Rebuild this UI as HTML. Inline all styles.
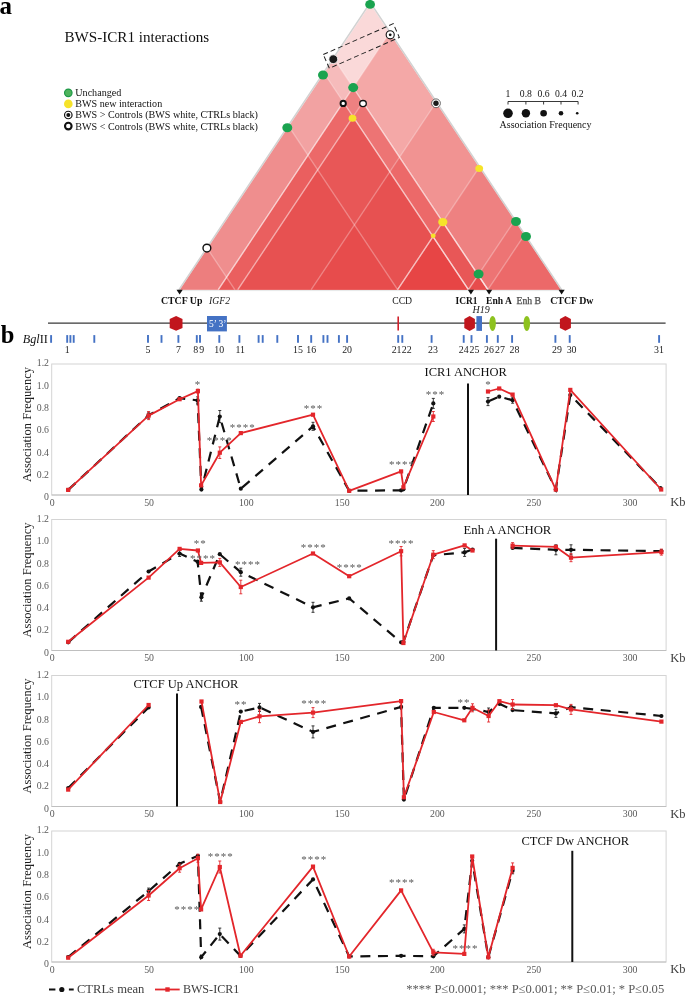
<!DOCTYPE html>
<html><head><meta charset="utf-8"><title>BWS-ICR1 interactions</title>
<style>
html,body{margin:0;padding:0;background:#fff;}
body{width:685px;height:996px;overflow:hidden;}
svg{display:block;will-change:transform;font-family:"Liberation Serif", serif;}
</style></head><body>
<svg width="685" height="996" viewBox="0 0 685 996">

<text x="-0.4" y="14.1" font-size="25" font-weight="bold" fill="#000">a</text>
<text x="64.5" y="41.7" font-size="15.1" fill="#111">BWS-ICR1 interactions</text>
<circle cx="68.3" cy="92.8" r="3.75" fill="#4fb35c" stroke="#1f9a48" stroke-width="1.2"/>
<text x="75.3" y="96.2" font-size="10.1" fill="#111">Unchanged</text>
<circle cx="68.3" cy="103.89999999999999" r="4.3" fill="#f6e32a"/>
<text x="75.3" y="107.3" font-size="10.1" fill="#111">BWS new interaction</text>
<circle cx="68.3" cy="115.0" r="3.75" fill="#fff" stroke="#111" stroke-width="1.2"/><circle cx="68.3" cy="115.0" r="2.0" fill="#111"/>
<text x="75.3" y="118.4" font-size="10.1" fill="#111">BWS &gt; Controls (BWS white, CTRLs black)</text>
<circle cx="68.3" cy="126.1" r="3.3" fill="#fff" stroke="#111" stroke-width="2.1"/>
<text x="75.3" y="129.5" font-size="10.1" fill="#111">BWS &lt; Controls (BWS white, CTRLs black)</text>
<g>
<path d="M179.80,289.7 L370.30,3.95 L560.80,289.7Z" fill="rgb(229,55,52)" fill-opacity="0.19"/>
<path d="M218.30,289.7 L389.55,32.83 L560.80,289.7Z" fill="rgb(229,55,52)" fill-opacity="0.3"/>
<path d="M179.80,289.7 L333.85,58.62 L487.90,289.7Z" fill="rgb(229,55,52)" fill-opacity="0.185"/>
<path d="M179.80,289.7 L324.10,73.25 L468.40,289.7Z" fill="rgb(229,55,52)" fill-opacity="0.185"/>
<path d="M218.30,289.7 L353.10,87.50 L487.90,289.7Z" fill="rgb(229,55,52)" fill-opacity="0.185"/>
<path d="M218.30,289.7 L343.35,102.12 L468.40,289.7Z" fill="rgb(229,55,52)" fill-opacity="0.185"/>
<path d="M237.80,289.7 L362.85,102.12 L487.90,289.7Z" fill="rgb(229,55,52)" fill-opacity="0.185"/>
<path d="M311.20,289.7 L436.00,102.50 L560.80,289.7Z" fill="rgb(229,55,52)" fill-opacity="0.185"/>
<path d="M237.80,289.7 L353.10,116.75 L468.40,289.7Z" fill="rgb(229,55,52)" fill-opacity="0.185"/>
<path d="M179.80,289.7 L288.70,126.35 L397.60,289.7Z" fill="rgb(229,55,52)" fill-opacity="0.185"/>
<path d="M397.60,289.7 L479.20,167.30 L560.80,289.7Z" fill="rgb(229,55,52)" fill-opacity="0.185"/>
<path d="M468.40,289.7 L514.60,220.40 L560.80,289.7Z" fill="rgb(229,55,52)" fill-opacity="0.185"/>
<path d="M397.60,289.7 L442.75,221.98 L487.90,289.7Z" fill="rgb(229,55,52)" fill-opacity="0.185"/>
<path d="M487.90,289.7 L524.35,235.03 L560.80,289.7Z" fill="rgb(229,55,52)" fill-opacity="0.185"/>
<path d="M397.60,289.7 L433.00,236.60 L468.40,289.7Z" fill="rgb(229,55,52)" fill-opacity="0.185"/>
<path d="M179.80,289.7 L207.30,248.45 L234.80,289.7Z" fill="rgb(229,55,52)" fill-opacity="0.185"/>
<path d="M468.40,289.7 L478.15,275.07 L487.90,289.7Z" fill="rgb(229,55,52)" fill-opacity="0.185"/>
<path d="M218.30,289.7 L389.55,32.83" fill="none" stroke="#fff" stroke-opacity="0.3" stroke-width="1.3"/>
<path d="M333.85,58.62 L487.90,289.7" fill="none" stroke="#fff" stroke-opacity="0.3" stroke-width="1.3"/>
<path d="M324.10,73.25 L468.40,289.7" fill="none" stroke="#fff" stroke-opacity="0.3" stroke-width="1.3"/>
<path d="M218.30,289.7 L353.10,87.50" fill="none" stroke="#fff" stroke-opacity="0.3" stroke-width="1.3"/>
<path d="M353.10,87.50 L487.90,289.7" fill="none" stroke="#fff" stroke-opacity="0.3" stroke-width="1.3"/>
<path d="M218.30,289.7 L343.35,102.12" fill="none" stroke="#fff" stroke-opacity="0.3" stroke-width="1.3"/>
<path d="M343.35,102.12 L468.40,289.7" fill="none" stroke="#fff" stroke-opacity="0.3" stroke-width="1.3"/>
<path d="M237.80,289.7 L362.85,102.12" fill="none" stroke="#fff" stroke-opacity="0.3" stroke-width="1.3"/>
<path d="M362.85,102.12 L487.90,289.7" fill="none" stroke="#fff" stroke-opacity="0.3" stroke-width="1.3"/>
<path d="M311.20,289.7 L436.00,102.50" fill="none" stroke="#fff" stroke-opacity="0.3" stroke-width="1.3"/>
<path d="M237.80,289.7 L353.10,116.75" fill="none" stroke="#fff" stroke-opacity="0.3" stroke-width="1.3"/>
<path d="M353.10,116.75 L468.40,289.7" fill="none" stroke="#fff" stroke-opacity="0.3" stroke-width="1.3"/>
<path d="M288.70,126.35 L397.60,289.7" fill="none" stroke="#fff" stroke-opacity="0.3" stroke-width="1.3"/>
<path d="M397.60,289.7 L479.20,167.30" fill="none" stroke="#fff" stroke-opacity="0.3" stroke-width="1.3"/>
<path d="M468.40,289.7 L514.60,220.40" fill="none" stroke="#fff" stroke-opacity="0.3" stroke-width="1.3"/>
<path d="M397.60,289.7 L442.75,221.98" fill="none" stroke="#fff" stroke-opacity="0.3" stroke-width="1.3"/>
<path d="M442.75,221.98 L487.90,289.7" fill="none" stroke="#fff" stroke-opacity="0.3" stroke-width="1.3"/>
<path d="M487.90,289.7 L524.35,235.03" fill="none" stroke="#fff" stroke-opacity="0.3" stroke-width="1.3"/>
<path d="M397.60,289.7 L433.00,236.60" fill="none" stroke="#fff" stroke-opacity="0.3" stroke-width="1.3"/>
<path d="M433.00,236.60 L468.40,289.7" fill="none" stroke="#fff" stroke-opacity="0.3" stroke-width="1.3"/>
<path d="M207.30,248.45 L234.80,289.7" fill="none" stroke="#fff" stroke-opacity="0.3" stroke-width="1.3"/>
<path d="M468.40,289.7 L478.15,275.07" fill="none" stroke="#fff" stroke-opacity="0.3" stroke-width="1.3"/>
<path d="M478.15,275.07 L487.90,289.7" fill="none" stroke="#fff" stroke-opacity="0.3" stroke-width="1.3"/>
</g>
<path d="M178.85,290.0 L370.30,2.55 L561.75,290.0" fill="none" stroke="#d2d2d2" stroke-width="1.5"/>
<line x1="179.8" y1="290.59999999999997" x2="560.8" y2="290.59999999999997" stroke="#e6e8e8" stroke-width="1"/>
<ellipse cx="370.10" cy="4.40" rx="4.89" ry="4.46" fill="#1aa34f"/>
<ellipse cx="323.00" cy="75.00" rx="4.99" ry="4.56" fill="#1aa34f"/>
<ellipse cx="353.20" cy="87.60" rx="4.99" ry="4.56" fill="#1aa34f"/>
<ellipse cx="287.30" cy="127.80" rx="4.99" ry="4.56" fill="#1aa34f"/>
<ellipse cx="516.00" cy="221.50" rx="4.99" ry="4.56" fill="#1aa34f"/>
<ellipse cx="526.00" cy="236.50" rx="4.99" ry="4.56" fill="#1aa34f"/>
<ellipse cx="478.60" cy="274.00" rx="4.99" ry="4.56" fill="#1aa34f"/>
<ellipse cx="352.50" cy="118.30" rx="3.89" ry="3.52" fill="#f6e32a"/>
<ellipse cx="479.20" cy="168.40" rx="3.89" ry="3.52" fill="#f6e32a"/>
<ellipse cx="442.80" cy="222.10" rx="4.62" ry="4.18" fill="#f6e32a"/>
<ellipse cx="433.20" cy="235.80" rx="2.42" ry="2.18" fill="#f6e32a"/>
<circle cx="333.3" cy="59.2" r="4.4" fill="#1a1a1a" stroke="#fff" stroke-width="0.8"/>
<circle cx="390.2" cy="34.8" r="4.05" fill="#fff" stroke="#111" stroke-width="1.1"/><circle cx="390.2" cy="34.8" r="1.4" fill="#111"/>
<circle cx="343.2" cy="103.4" r="2.65" fill="#fff" stroke="#111" stroke-width="1.9"/>
<ellipse cx="363.0" cy="103.6" rx="3.3" ry="3.1" fill="#fff" stroke="#111" stroke-width="1.3"/>
<circle cx="436" cy="103.3" r="4.4" fill="#fff" stroke="#444" stroke-width="0.8"/><circle cx="436" cy="103.3" r="2.7" fill="#1a1a1a"/>
<circle cx="206.9" cy="248.1" r="3.9" fill="#fff" stroke="#111" stroke-width="1.4"/>
<rect x="-38.20" y="-8.7" width="76.5" height="15" fill="none" stroke="#222" stroke-width="1" stroke-dasharray="5,3" transform="translate(361.75,47.10) rotate(-23.84)"/>
<path d="M176.5,289.7 L182.7,289.7 L179.6,294.5" fill="#111"/>
<path d="M467.8,289.7 L474.0,289.7 L470.9,294.5" fill="#111"/>
<path d="M486.0,289.7 L492.2,289.7 L489.1,294.5" fill="#111"/>
<path d="M558.5,289.7 L564.7,289.7 L561.6,294.5" fill="#111"/>
<text x="160.9" y="304.4" font-size="9.9" font-weight="bold" fill="#111">CTCF Up</text>
<text x="209" y="304.4" font-size="9.7" font-style="italic" fill="#222">IGF2</text>
<text x="392.2" y="304.4" font-size="9.7" fill="#222">CCD</text>
<text x="455.5" y="304.4" font-size="9.4" font-weight="bold" fill="#111">ICR1</text>
<text x="486" y="304.4" font-size="9.6" font-weight="bold" fill="#111">Enh A</text>
<text x="516.6" y="304.4" font-size="9.7" fill="#4a4a4a" stroke="#4a4a4a" stroke-width="0.25">Enh B</text>
<text x="550.2" y="304.4" font-size="9.9" font-weight="bold" fill="#111">CTCF Dw</text>
<text x="472.5" y="312.7" font-size="10" font-style="italic" fill="#222">H19</text>
<g fill="#111">
<text x="508" y="96.6" font-size="9.7" text-anchor="middle">1</text>
<text x="525.9" y="96.6" font-size="9.7" text-anchor="middle">0.8</text>
<text x="543.6" y="96.6" font-size="9.7" text-anchor="middle">0.6</text>
<text x="561" y="96.6" font-size="9.7" text-anchor="middle">0.4</text>
<text x="577.6" y="96.6" font-size="9.7" text-anchor="middle">0.2</text>
</g>
<path d="M508,104.5 V101.5 H578.1 V104.5 M525.9,101.5 V104.5 M543.6,101.5 V104.5 M561,101.5 V104.5" fill="none" stroke="#222" stroke-width="0.9"/>
<circle cx="508" cy="113.3" r="4.8" fill="#111"/>
<circle cx="525.9" cy="113.3" r="4.2" fill="#111"/>
<circle cx="543.6" cy="113.3" r="3.3" fill="#111"/>
<circle cx="561" cy="113.3" r="2.3" fill="#111"/>
<circle cx="577.2" cy="113.3" r="1.3" fill="#111"/>
<text x="499.6" y="127.7" font-size="10" fill="#111">Association Frequency</text>
<text x="0.8" y="343" font-size="24.5" font-weight="bold" fill="#000">b</text>
<line x1="48" y1="323.2" x2="665.6" y2="323.2" stroke="#383838" stroke-width="1.3"/>
<path d="M176.1,316.0 L182.5,319.0 L182.5,328.0 L176.1,330.79999999999995 L169.7,328.0 L169.7,319.0 Z" fill="#c1161d"/>
<path d="M469.6,316.1 L474.90000000000003,319.1 L474.90000000000003,328.1 L469.6,330.9 L464.3,328.1 L464.3,319.1 Z" fill="#c1161d"/>
<path d="M565.4,316.0 L570.9,319.0 L570.9,328.0 L565.4,330.79999999999995 L559.9,328.0 L559.9,319.0 Z" fill="#c1161d"/>
<rect x="207" y="316" width="19.9" height="15.4" fill="#4472c4"/>
<text x="209" y="327.3" font-size="10.5" fill="#fff" textLength="17.5" lengthAdjust="spacingAndGlyphs">5&#8217; 3&#8217;</text>
<rect x="476.4" y="316.1" width="5.6" height="14.8" fill="#4472c4"/>
<line x1="398.2" y1="316.4" x2="398.2" y2="330.4" stroke="#d0202a" stroke-width="1.6"/>
<ellipse cx="492.6" cy="323.4" rx="3.3" ry="7.5" fill="#8dc21f"/>
<ellipse cx="526.8" cy="323.4" rx="3.3" ry="7.5" fill="#8dc21f"/>
<text x="22.8" y="342.7" font-size="12.2" fill="#111"><tspan font-style="italic">Bgl</tspan>II</text>
<line x1="51.1" y1="335.1" x2="51.1" y2="342.8" stroke="#4472c4" stroke-width="1.9"/>
<line x1="67.2" y1="335.1" x2="67.2" y2="342.8" stroke="#4472c4" stroke-width="1.9"/>
<line x1="70.4" y1="335.1" x2="70.4" y2="342.8" stroke="#4472c4" stroke-width="1.9"/>
<line x1="73.7" y1="335.1" x2="73.7" y2="342.8" stroke="#4472c4" stroke-width="1.9"/>
<line x1="94.3" y1="335.1" x2="94.3" y2="342.8" stroke="#4472c4" stroke-width="1.9"/>
<line x1="148.0" y1="335.1" x2="148.0" y2="342.8" stroke="#4472c4" stroke-width="1.9"/>
<line x1="161.5" y1="335.1" x2="161.5" y2="342.8" stroke="#4472c4" stroke-width="1.9"/>
<line x1="178.4" y1="335.1" x2="178.4" y2="342.8" stroke="#4472c4" stroke-width="1.9"/>
<line x1="196.8" y1="335.1" x2="196.8" y2="342.8" stroke="#4472c4" stroke-width="1.9"/>
<line x1="200.0" y1="335.1" x2="200.0" y2="342.8" stroke="#4472c4" stroke-width="1.9"/>
<line x1="219.3" y1="335.1" x2="219.3" y2="342.8" stroke="#4472c4" stroke-width="1.9"/>
<line x1="239.4" y1="335.1" x2="239.4" y2="342.8" stroke="#4472c4" stroke-width="1.9"/>
<line x1="258.6" y1="335.1" x2="258.6" y2="342.8" stroke="#4472c4" stroke-width="1.9"/>
<line x1="262.7" y1="335.1" x2="262.7" y2="342.8" stroke="#4472c4" stroke-width="1.9"/>
<line x1="277.3" y1="335.1" x2="277.3" y2="342.8" stroke="#4472c4" stroke-width="1.9"/>
<line x1="298.0" y1="335.1" x2="298.0" y2="342.8" stroke="#4472c4" stroke-width="1.9"/>
<line x1="311.2" y1="335.1" x2="311.2" y2="342.8" stroke="#4472c4" stroke-width="1.9"/>
<line x1="323.4" y1="335.1" x2="323.4" y2="342.8" stroke="#4472c4" stroke-width="1.9"/>
<line x1="327.5" y1="335.1" x2="327.5" y2="342.8" stroke="#4472c4" stroke-width="1.9"/>
<line x1="338.9" y1="335.1" x2="338.9" y2="342.8" stroke="#4472c4" stroke-width="1.9"/>
<line x1="347.1" y1="335.1" x2="347.1" y2="342.8" stroke="#4472c4" stroke-width="1.9"/>
<line x1="398.2" y1="335.1" x2="398.2" y2="342.8" stroke="#4472c4" stroke-width="1.9"/>
<line x1="402.3" y1="335.1" x2="402.3" y2="342.8" stroke="#4472c4" stroke-width="1.9"/>
<line x1="431.6" y1="335.1" x2="431.6" y2="342.8" stroke="#4472c4" stroke-width="1.9"/>
<line x1="463.7" y1="335.1" x2="463.7" y2="342.8" stroke="#4472c4" stroke-width="1.9"/>
<line x1="471.5" y1="335.1" x2="471.5" y2="342.8" stroke="#4472c4" stroke-width="1.9"/>
<line x1="486.9" y1="335.1" x2="486.9" y2="342.8" stroke="#4472c4" stroke-width="1.9"/>
<line x1="497.8" y1="335.1" x2="497.8" y2="342.8" stroke="#4472c4" stroke-width="1.9"/>
<line x1="512.1" y1="335.1" x2="512.1" y2="342.8" stroke="#4472c4" stroke-width="1.9"/>
<line x1="555.4" y1="335.1" x2="555.4" y2="342.8" stroke="#4472c4" stroke-width="1.9"/>
<line x1="569.7" y1="335.1" x2="569.7" y2="342.8" stroke="#4472c4" stroke-width="1.9"/>
<line x1="659.1" y1="335.1" x2="659.1" y2="342.8" stroke="#4472c4" stroke-width="1.9"/>
<g font-size="9.9" fill="#222" text-anchor="middle">
<text x="67.2" y="353.1">1</text>
<text x="148" y="353.1">5</text>
<text x="178.4" y="353.1">7</text>
<text x="195.8" y="353.1">8</text>
<text x="201.7" y="353.1">9</text>
<text x="219.3" y="353.1">10</text>
<text x="240.2" y="353.1">11</text>
<text x="298" y="353.1">15</text>
<text x="311.2" y="353.1">16</text>
<text x="347.1" y="353.1">20</text>
<text x="396.6" y="353.1">21</text>
<text x="406.8" y="353.1">22</text>
<text x="433.0" y="353.1">23</text>
<text x="463.7" y="353.1">24</text>
<text x="474.5" y="353.1">25</text>
<text x="488.9" y="353.1">26</text>
<text x="500" y="353.1">27</text>
<text x="514.4" y="353.1">28</text>
<text x="557" y="353.1">29</text>
<text x="571.6" y="353.1">30</text>
<text x="659" y="353.1">31</text>
</g>
<rect x="51.7" y="364.0" width="614.4" height="131.0" fill="none" stroke="#d4d4d4" stroke-width="1"/>
<line x1="51.7" y1="495.0" x2="666.1" y2="495.0" stroke="#bfbfbf" stroke-width="1"/>
<g font-size="9.8" fill="#595959" text-anchor="end">
<text x="49" y="500.1">0</text>
<text x="49" y="477.8">0.2</text>
<text x="49" y="455.5">0.4</text>
<text x="49" y="433.3">0.6</text>
<text x="49" y="411.0">0.8</text>
<text x="49" y="388.7">1.0</text>
<text x="49" y="366.4">1.2</text>
</g>
<g font-size="9.8" fill="#595959" text-anchor="middle">
<text x="52.1" y="505.6">0</text>
<text x="149.1" y="505.6">50</text>
<text x="246.3" y="505.6">100</text>
<text x="342.2" y="505.6">150</text>
<text x="437.4" y="505.6">200</text>
<text x="533.9" y="505.6">250</text>
<text x="630.1" y="505.6">300</text>
</g>
<text x="670.3" y="506.0" font-size="12.5" fill="#404040">Kb</text>
<text transform="translate(30.8,424.5) rotate(-90)" font-size="12.5" fill="#1a1a1a" text-anchor="middle">Association Frequency</text>
<line x1="468.0" y1="383.4" x2="468.0" y2="495.0" stroke="#111" stroke-width="2"/>
<text x="424.5" y="376.1" font-size="12.5" fill="#111">ICR1 ANCHOR</text>
<path d="M148.6,412.2 V418.2 M147.1,412.2 H150.1 M147.1,418.2 H150.1" stroke="#222" stroke-width="0.9" fill="none"/>
<path d="M197.6,396.9 V403.9 M196.1,396.9 H199.1 M196.1,403.9 H199.1" stroke="#222" stroke-width="0.9" fill="none"/>
<path d="M219.8,410.5 V422.5 M218.3,410.5 H221.3 M218.3,422.5 H221.3" stroke="#222" stroke-width="0.9" fill="none"/>
<path d="M313,422.3 V430.3 M311.5,422.3 H314.5 M311.5,430.3 H314.5" stroke="#222" stroke-width="0.9" fill="none"/>
<path d="M433.3,398.4 V408.4 M431.8,398.4 H434.8 M431.8,408.4 H434.8" stroke="#222" stroke-width="0.9" fill="none"/>
<path d="M488,397.6 V405.6 M486.5,397.6 H489.5 M486.5,405.6 H489.5" stroke="#222" stroke-width="0.9" fill="none"/>
<path d="M512.6,397.2 V403.2 M511.1,397.2 H514.1 M511.1,403.2 H514.1" stroke="#222" stroke-width="0.9" fill="none"/>
<path d="M68.2,489.9 L148.6,415.2 L179.6,398.1 L197.6,400.4 L201.4,489.6 L219.8,416.5 L240.8,488.7 L313,426.3 L349.2,490.8 L401.1,490.3 L403.4,489.3 L433.3,403.4" fill="none" stroke="#111" stroke-width="2.2" stroke-dasharray="10,7.6"/>
<circle cx="68.2" cy="489.9" r="2.1" fill="#111"/>
<circle cx="148.6" cy="415.2" r="2.1" fill="#111"/>
<circle cx="179.6" cy="398.1" r="2.1" fill="#111"/>
<circle cx="197.6" cy="400.4" r="2.1" fill="#111"/>
<circle cx="201.4" cy="489.6" r="2.1" fill="#111"/>
<circle cx="219.8" cy="416.5" r="2.1" fill="#111"/>
<circle cx="240.8" cy="488.7" r="2.1" fill="#111"/>
<circle cx="313" cy="426.3" r="2.1" fill="#111"/>
<circle cx="349.2" cy="490.8" r="2.1" fill="#111"/>
<circle cx="401.1" cy="490.3" r="2.1" fill="#111"/>
<circle cx="403.4" cy="489.3" r="2.1" fill="#111"/>
<circle cx="433.3" cy="403.4" r="2.1" fill="#111"/>
<path d="M488,401.6 L499.2,396.7 L512.6,400.2 L555.8,489.6 L570.3,395 L660.5,488" fill="none" stroke="#111" stroke-width="2.2" stroke-dasharray="10,7.6"/>
<circle cx="488" cy="401.6" r="2.1" fill="#111"/>
<circle cx="499.2" cy="396.7" r="2.1" fill="#111"/>
<circle cx="512.6" cy="400.2" r="2.1" fill="#111"/>
<circle cx="555.8" cy="489.6" r="2.1" fill="#111"/>
<circle cx="570.3" cy="395" r="2.1" fill="#111"/>
<circle cx="660.5" cy="488" r="2.1" fill="#111"/>
<path d="M148.6,411.6 V419.6 M147.1,411.6 H150.1 M147.1,419.6 H150.1" stroke="#e3262b" stroke-width="0.9" fill="none"/>
<path d="M197.9,389.1 V393.1 M196.4,389.1 H199.4 M196.4,393.1 H199.4" stroke="#e3262b" stroke-width="0.9" fill="none"/>
<path d="M219.8,446.9 V458.5 M218.3,446.9 H221.3 M218.3,458.5 H221.3" stroke="#e3262b" stroke-width="0.9" fill="none"/>
<path d="M433.3,411.5 V421.5 M431.8,411.5 H434.8 M431.8,421.5 H434.8" stroke="#e3262b" stroke-width="0.9" fill="none"/>
<path d="M68.2,489.9 L148.6,415.6 L179.6,399.2 L197.9,391.1 L201.1,485.4 L219.8,452.7 L240.8,433.1 L313,414.7 L349.2,490.8 L401.1,471.4 L403.4,487.3 L433.3,416.5" fill="none" stroke="#e3262b" stroke-width="1.8" stroke-linejoin="round"/>
<rect x="66.1" y="487.8" width="4.2" height="4.2" fill="#e3262b"/>
<rect x="146.5" y="413.5" width="4.2" height="4.2" fill="#e3262b"/>
<rect x="177.5" y="397.1" width="4.2" height="4.2" fill="#e3262b"/>
<rect x="195.8" y="389.0" width="4.2" height="4.2" fill="#e3262b"/>
<rect x="199.0" y="483.3" width="4.2" height="4.2" fill="#e3262b"/>
<rect x="217.7" y="450.6" width="4.2" height="4.2" fill="#e3262b"/>
<rect x="238.7" y="431.0" width="4.2" height="4.2" fill="#e3262b"/>
<rect x="310.9" y="412.6" width="4.2" height="4.2" fill="#e3262b"/>
<rect x="347.1" y="488.7" width="4.2" height="4.2" fill="#e3262b"/>
<rect x="399.0" y="469.3" width="4.2" height="4.2" fill="#e3262b"/>
<rect x="401.3" y="485.2" width="4.2" height="4.2" fill="#e3262b"/>
<rect x="431.2" y="414.4" width="4.2" height="4.2" fill="#e3262b"/>
<path d="M488,391.5 L499.2,388.5 L512.6,394.6 L555.8,489.6 L570.3,389.9 L661.2,489.5" fill="none" stroke="#e3262b" stroke-width="1.8" stroke-linejoin="round"/>
<rect x="485.9" y="389.4" width="4.2" height="4.2" fill="#e3262b"/>
<rect x="497.1" y="386.4" width="4.2" height="4.2" fill="#e3262b"/>
<rect x="510.5" y="392.5" width="4.2" height="4.2" fill="#e3262b"/>
<rect x="553.7" y="487.5" width="4.2" height="4.2" fill="#e3262b"/>
<rect x="568.2" y="387.8" width="4.2" height="4.2" fill="#e3262b"/>
<rect x="659.1" y="487.4" width="4.2" height="4.2" fill="#e3262b"/>
<text x="198.1" y="387.7" font-size="11" fill="#585858" text-anchor="middle" letter-spacing="1.0">*</text>
<text x="219.8" y="444.4" font-size="11" fill="#585858" text-anchor="middle" letter-spacing="1.0">****</text>
<text x="242.7" y="431.1" font-size="11" fill="#585858" text-anchor="middle" letter-spacing="1.0">****</text>
<text x="313.5" y="412.4" font-size="11" fill="#585858" text-anchor="middle" letter-spacing="1.0">***</text>
<text x="402.1" y="467.8" font-size="11" fill="#585858" text-anchor="middle" letter-spacing="1.0">****</text>
<text x="435.5" y="398.4" font-size="11" fill="#585858" text-anchor="middle" letter-spacing="1.0">***</text>
<text x="488.5" y="387.7" font-size="11" fill="#585858" text-anchor="middle" letter-spacing="1.0">*</text>
<rect x="51.7" y="519.5" width="614.4" height="131.0" fill="none" stroke="#d4d4d4" stroke-width="1"/>
<line x1="51.7" y1="650.5" x2="666.1" y2="650.5" stroke="#bfbfbf" stroke-width="1"/>
<g font-size="9.8" fill="#595959" text-anchor="end">
<text x="49" y="655.6">0</text>
<text x="49" y="633.3">0.2</text>
<text x="49" y="611.0">0.4</text>
<text x="49" y="588.7">0.6</text>
<text x="49" y="566.5">0.8</text>
<text x="49" y="544.2">1.0</text>
<text x="49" y="521.9">1.2</text>
</g>
<g font-size="9.8" fill="#595959" text-anchor="middle">
<text x="52.1" y="661.1">0</text>
<text x="149.1" y="661.1">50</text>
<text x="246.3" y="661.1">100</text>
<text x="342.2" y="661.1">150</text>
<text x="437.4" y="661.1">200</text>
<text x="533.9" y="661.1">250</text>
<text x="630.1" y="661.1">300</text>
</g>
<text x="670.3" y="661.5" font-size="12.5" fill="#404040">Kb</text>
<text transform="translate(30.8,580.0) rotate(-90)" font-size="12.5" fill="#1a1a1a" text-anchor="middle">Association Frequency</text>
<line x1="496.1" y1="538.7" x2="496.1" y2="650.5" stroke="#111" stroke-width="2"/>
<text x="463.5" y="533.5" font-size="12.75" fill="#111">Enh A ANCHOR</text>
<path d="M179.6,550.5 V556.5 M178.1,550.5 H181.1 M178.1,556.5 H181.1" stroke="#222" stroke-width="0.9" fill="none"/>
<path d="M201.4,593.2 V601.2 M199.9,593.2 H202.9 M199.9,601.2 H202.9" stroke="#222" stroke-width="0.9" fill="none"/>
<path d="M240.8,568.2 V576.2 M239.3,568.2 H242.3 M239.3,576.2 H242.3" stroke="#222" stroke-width="0.9" fill="none"/>
<path d="M313,602.3 V612.3 M311.5,602.3 H314.5 M311.5,612.3 H314.5" stroke="#222" stroke-width="0.9" fill="none"/>
<path d="M464.6,548.4 V556.4 M463.1,548.4 H466.1 M463.1,556.4 H466.1" stroke="#222" stroke-width="0.9" fill="none"/>
<path d="M555.9,544.8 V554.8 M554.4,544.8 H557.4 M554.4,554.8 H557.4" stroke="#222" stroke-width="0.9" fill="none"/>
<path d="M571,544.8 V554.8 M569.5,544.8 H572.5 M569.5,554.8 H572.5" stroke="#222" stroke-width="0.9" fill="none"/>
<path d="M68.2,642.3 L148.6,571.5 L179.6,553.5 L197.6,561.7 L201.4,597.2 L219.8,554.2 L240.8,572.2 L313,607.3 L349.2,598.4 L401.1,642.3 L403.4,642.0 L433.3,555.2 L464.6,552.4 L472.5,549.5" fill="none" stroke="#111" stroke-width="2.2" stroke-dasharray="10,7.6"/>
<circle cx="68.2" cy="642.3" r="2.1" fill="#111"/>
<circle cx="148.6" cy="571.5" r="2.1" fill="#111"/>
<circle cx="179.6" cy="553.5" r="2.1" fill="#111"/>
<circle cx="197.6" cy="561.7" r="2.1" fill="#111"/>
<circle cx="201.4" cy="597.2" r="2.1" fill="#111"/>
<circle cx="219.8" cy="554.2" r="2.1" fill="#111"/>
<circle cx="240.8" cy="572.2" r="2.1" fill="#111"/>
<circle cx="313" cy="607.3" r="2.1" fill="#111"/>
<circle cx="349.2" cy="598.4" r="2.1" fill="#111"/>
<circle cx="401.1" cy="642.3" r="2.1" fill="#111"/>
<circle cx="403.4" cy="642.0" r="2.1" fill="#111"/>
<circle cx="433.3" cy="555.2" r="2.1" fill="#111"/>
<circle cx="464.6" cy="552.4" r="2.1" fill="#111"/>
<circle cx="472.5" cy="549.5" r="2.1" fill="#111"/>
<path d="M512.6,547.9 L555.9,549.8 L571,549.8 L661.4,551.1" fill="none" stroke="#111" stroke-width="2.2" stroke-dasharray="10,7.6"/>
<circle cx="512.6" cy="547.9" r="2.1" fill="#111"/>
<circle cx="555.9" cy="549.8" r="2.1" fill="#111"/>
<circle cx="571" cy="549.8" r="2.1" fill="#111"/>
<circle cx="661.4" cy="551.1" r="2.1" fill="#111"/>
<path d="M219.8,558.4 V566.4 M218.3,558.4 H221.3 M218.3,566.4 H221.3" stroke="#e3262b" stroke-width="0.9" fill="none"/>
<path d="M240.8,580.2 V593.8 M239.3,580.2 H242.3 M239.3,593.8 H242.3" stroke="#e3262b" stroke-width="0.9" fill="none"/>
<path d="M401.1,546.5 V555.9 M399.6,546.5 H402.6 M399.6,555.9 H402.6" stroke="#e3262b" stroke-width="0.9" fill="none"/>
<path d="M433.3,550.7 V558.7 M431.8,550.7 H434.8 M431.8,558.7 H434.8" stroke="#e3262b" stroke-width="0.9" fill="none"/>
<path d="M512.6,542.6 V548.6 M511.1,542.6 H514.1 M511.1,548.6 H514.1" stroke="#e3262b" stroke-width="0.9" fill="none"/>
<path d="M571,553.7 V561.7 M569.5,553.7 H572.5 M569.5,561.7 H572.5" stroke="#e3262b" stroke-width="0.9" fill="none"/>
<path d="M661.4,549.1 V555.1 M659.9,549.1 H662.9 M659.9,555.1 H662.9" stroke="#e3262b" stroke-width="0.9" fill="none"/>
<path d="M68.2,641.8 L148.6,577.6 L179.6,548.9 L197.9,550.5 L201.1,562.9 L219.8,562.4 L240.8,587 L313,553.5 L349.2,576.2 L401.1,551.2 L403.4,643 L433.3,554.7 L464.6,545.4 L472.5,550.5" fill="none" stroke="#e3262b" stroke-width="1.8" stroke-linejoin="round"/>
<rect x="66.1" y="639.7" width="4.2" height="4.2" fill="#e3262b"/>
<rect x="146.5" y="575.5" width="4.2" height="4.2" fill="#e3262b"/>
<rect x="177.5" y="546.8" width="4.2" height="4.2" fill="#e3262b"/>
<rect x="195.8" y="548.4" width="4.2" height="4.2" fill="#e3262b"/>
<rect x="199.0" y="560.8" width="4.2" height="4.2" fill="#e3262b"/>
<rect x="217.7" y="560.3" width="4.2" height="4.2" fill="#e3262b"/>
<rect x="238.7" y="584.9" width="4.2" height="4.2" fill="#e3262b"/>
<rect x="310.9" y="551.4" width="4.2" height="4.2" fill="#e3262b"/>
<rect x="347.1" y="574.1" width="4.2" height="4.2" fill="#e3262b"/>
<rect x="399.0" y="549.1" width="4.2" height="4.2" fill="#e3262b"/>
<rect x="401.3" y="640.9" width="4.2" height="4.2" fill="#e3262b"/>
<rect x="431.2" y="552.6" width="4.2" height="4.2" fill="#e3262b"/>
<rect x="462.5" y="543.3" width="4.2" height="4.2" fill="#e3262b"/>
<rect x="470.4" y="548.4" width="4.2" height="4.2" fill="#e3262b"/>
<path d="M512.6,545.6 L555.9,546.9 L571,557.7 L661.4,552.1" fill="none" stroke="#e3262b" stroke-width="1.8" stroke-linejoin="round"/>
<rect x="510.5" y="543.5" width="4.2" height="4.2" fill="#e3262b"/>
<rect x="553.8" y="544.8" width="4.2" height="4.2" fill="#e3262b"/>
<rect x="568.9" y="555.6" width="4.2" height="4.2" fill="#e3262b"/>
<rect x="659.3" y="550.0" width="4.2" height="4.2" fill="#e3262b"/>
<text x="200.2" y="547.3" font-size="11" fill="#585858" text-anchor="middle" letter-spacing="1.0">**</text>
<text x="203.0" y="562.0" font-size="11" fill="#585858" text-anchor="middle" letter-spacing="1.0">****</text>
<text x="248.1" y="568.4" font-size="11" fill="#585858" text-anchor="middle" letter-spacing="1.0">****</text>
<text x="313.8" y="551.1" font-size="11" fill="#585858" text-anchor="middle" letter-spacing="1.0">****</text>
<text x="349.7" y="571.4" font-size="11" fill="#585858" text-anchor="middle" letter-spacing="1.0">****</text>
<text x="401.6" y="547.3" font-size="11" fill="#585858" text-anchor="middle" letter-spacing="1.0">****</text>
<rect x="51.7" y="675.5" width="614.4" height="131.0" fill="none" stroke="#d4d4d4" stroke-width="1"/>
<line x1="51.7" y1="806.5" x2="666.1" y2="806.5" stroke="#bfbfbf" stroke-width="1"/>
<g font-size="9.8" fill="#595959" text-anchor="end">
<text x="49" y="811.6">0</text>
<text x="49" y="789.3">0.2</text>
<text x="49" y="767.0">0.4</text>
<text x="49" y="744.7">0.6</text>
<text x="49" y="722.5">0.8</text>
<text x="49" y="700.2">1.0</text>
<text x="49" y="677.9">1.2</text>
</g>
<g font-size="9.8" fill="#595959" text-anchor="middle">
<text x="52.1" y="817.1">0</text>
<text x="149.1" y="817.1">50</text>
<text x="246.3" y="817.1">100</text>
<text x="342.2" y="817.1">150</text>
<text x="437.4" y="817.1">200</text>
<text x="533.9" y="817.1">250</text>
<text x="630.1" y="817.1">300</text>
</g>
<text x="670.3" y="817.5" font-size="12.5" fill="#404040">Kb</text>
<text transform="translate(30.8,736.0) rotate(-90)" font-size="12.5" fill="#1a1a1a" text-anchor="middle">Association Frequency</text>
<line x1="177.0" y1="693.4" x2="177.0" y2="806.5" stroke="#111" stroke-width="2"/>
<text x="133.4" y="688.4" font-size="12.5" fill="#111">CTCF Up ANCHOR</text>
<path d="M259.5,703.4 V711.4 M258.0,703.4 H261.0 M258.0,711.4 H261.0" stroke="#222" stroke-width="0.9" fill="none"/>
<path d="M313,725.9 V737.9 M311.5,725.9 H314.5 M311.5,737.9 H314.5" stroke="#222" stroke-width="0.9" fill="none"/>
<path d="M488.6,708.0 V716.0 M487.1,708.0 H490.1 M487.1,716.0 H490.1" stroke="#222" stroke-width="0.9" fill="none"/>
<path d="M555.9,709.4 V717.4 M554.4,709.4 H557.4 M554.4,717.4 H557.4" stroke="#222" stroke-width="0.9" fill="none"/>
<path d="M68.2,788 L148.6,707.4" fill="none" stroke="#111" stroke-width="2.2" stroke-dasharray="10,7.6"/>
<circle cx="68.2" cy="788" r="2.1" fill="#111"/>
<circle cx="148.6" cy="707.4" r="2.1" fill="#111"/>
<path d="M201.1,706.9 L220.2,802 L240.8,711.6 L259.5,707.4 L313,731.9 L401.1,706.9 L403.9,799.6 L433.8,707.8 L464.3,707.8 L472.5,708.8 L488.6,712 L499.4,703.8 L512.6,710.1 L555.9,713.4 L571,707.1 L661.4,716" fill="none" stroke="#111" stroke-width="2.2" stroke-dasharray="10,7.6"/>
<circle cx="201.1" cy="706.9" r="2.1" fill="#111"/>
<circle cx="220.2" cy="802" r="2.1" fill="#111"/>
<circle cx="240.8" cy="711.6" r="2.1" fill="#111"/>
<circle cx="259.5" cy="707.4" r="2.1" fill="#111"/>
<circle cx="313" cy="731.9" r="2.1" fill="#111"/>
<circle cx="401.1" cy="706.9" r="2.1" fill="#111"/>
<circle cx="403.9" cy="799.6" r="2.1" fill="#111"/>
<circle cx="433.8" cy="707.8" r="2.1" fill="#111"/>
<circle cx="464.3" cy="707.8" r="2.1" fill="#111"/>
<circle cx="472.5" cy="708.8" r="2.1" fill="#111"/>
<circle cx="488.6" cy="712" r="2.1" fill="#111"/>
<circle cx="499.4" cy="703.8" r="2.1" fill="#111"/>
<circle cx="512.6" cy="710.1" r="2.1" fill="#111"/>
<circle cx="555.9" cy="713.4" r="2.1" fill="#111"/>
<circle cx="571" cy="707.1" r="2.1" fill="#111"/>
<circle cx="661.4" cy="716" r="2.1" fill="#111"/>
<path d="M259.5,709.9 V722.7 M258.0,709.9 H261.0 M258.0,722.7 H261.0" stroke="#e3262b" stroke-width="0.9" fill="none"/>
<path d="M313,707.6 V717.6 M311.5,707.6 H314.5 M311.5,717.6 H314.5" stroke="#e3262b" stroke-width="0.9" fill="none"/>
<path d="M472.5,703.8 V711.8 M471.0,703.8 H474.0 M471.0,711.8 H474.0" stroke="#e3262b" stroke-width="0.9" fill="none"/>
<path d="M488.6,710.0 V722.0 M487.1,710.0 H490.1 M487.1,722.0 H490.1" stroke="#e3262b" stroke-width="0.9" fill="none"/>
<path d="M512.6,699.5 V709.5 M511.1,699.5 H514.1 M511.1,709.5 H514.1" stroke="#e3262b" stroke-width="0.9" fill="none"/>
<path d="M571,704.4 V714.4 M569.5,704.4 H572.5 M569.5,714.4 H572.5" stroke="#e3262b" stroke-width="0.9" fill="none"/>
<path d="M68.2,789.6 L148.6,705.0" fill="none" stroke="#e3262b" stroke-width="1.8" stroke-linejoin="round"/>
<rect x="66.1" y="787.5" width="4.2" height="4.2" fill="#e3262b"/>
<rect x="146.5" y="702.9" width="4.2" height="4.2" fill="#e3262b"/>
<path d="M201.5,701.5 L220.2,802 L240.8,721.9 L259.5,716.3 L313,712.6 L401.1,701.1 L403.9,797.3 L433.8,712 L464.3,720.3 L472.5,707.8 L488.6,716 L499.4,701.2 L512.6,704.5 L555.9,705.2 L571,709.4 L661.4,721.6" fill="none" stroke="#e3262b" stroke-width="1.8" stroke-linejoin="round"/>
<rect x="199.4" y="699.4" width="4.2" height="4.2" fill="#e3262b"/>
<rect x="218.1" y="799.9" width="4.2" height="4.2" fill="#e3262b"/>
<rect x="238.7" y="719.8" width="4.2" height="4.2" fill="#e3262b"/>
<rect x="257.4" y="714.2" width="4.2" height="4.2" fill="#e3262b"/>
<rect x="310.9" y="710.5" width="4.2" height="4.2" fill="#e3262b"/>
<rect x="399.0" y="699.0" width="4.2" height="4.2" fill="#e3262b"/>
<rect x="401.8" y="795.2" width="4.2" height="4.2" fill="#e3262b"/>
<rect x="431.7" y="709.9" width="4.2" height="4.2" fill="#e3262b"/>
<rect x="462.2" y="718.2" width="4.2" height="4.2" fill="#e3262b"/>
<rect x="470.4" y="705.7" width="4.2" height="4.2" fill="#e3262b"/>
<rect x="486.5" y="713.9" width="4.2" height="4.2" fill="#e3262b"/>
<rect x="497.3" y="699.1" width="4.2" height="4.2" fill="#e3262b"/>
<rect x="510.5" y="702.4" width="4.2" height="4.2" fill="#e3262b"/>
<rect x="553.8" y="703.1" width="4.2" height="4.2" fill="#e3262b"/>
<rect x="568.9" y="707.3" width="4.2" height="4.2" fill="#e3262b"/>
<rect x="659.3" y="719.5" width="4.2" height="4.2" fill="#e3262b"/>
<text x="241.0" y="708.4" font-size="11" fill="#585858" text-anchor="middle" letter-spacing="1.0">**</text>
<text x="314.2" y="707.2" font-size="11" fill="#585858" text-anchor="middle" letter-spacing="1.0">****</text>
<text x="463.9" y="705.5" font-size="11" fill="#585858" text-anchor="middle" letter-spacing="1.0">**</text>
<rect x="51.7" y="831.0" width="614.4" height="131.0" fill="none" stroke="#d4d4d4" stroke-width="1"/>
<line x1="51.7" y1="962.0" x2="666.1" y2="962.0" stroke="#bfbfbf" stroke-width="1"/>
<g font-size="9.8" fill="#595959" text-anchor="end">
<text x="49" y="967.1">0</text>
<text x="49" y="944.8">0.2</text>
<text x="49" y="922.5">0.4</text>
<text x="49" y="900.2">0.6</text>
<text x="49" y="878.0">0.8</text>
<text x="49" y="855.7">1.0</text>
<text x="49" y="833.4">1.2</text>
</g>
<g font-size="9.8" fill="#595959" text-anchor="middle">
<text x="52.1" y="972.6">0</text>
<text x="149.1" y="972.6">50</text>
<text x="246.3" y="972.6">100</text>
<text x="342.2" y="972.6">150</text>
<text x="437.4" y="972.6">200</text>
<text x="533.9" y="972.6">250</text>
<text x="630.1" y="972.6">300</text>
</g>
<text x="670.3" y="973.0" font-size="12.5" fill="#404040">Kb</text>
<text transform="translate(30.8,891.5) rotate(-90)" font-size="12.5" fill="#1a1a1a" text-anchor="middle">Association Frequency</text>
<line x1="572.3" y1="850.8" x2="572.3" y2="962.0" stroke="#111" stroke-width="2"/>
<text x="521.5" y="845.4" font-size="12.5" fill="#111">CTCF Dw ANCHOR</text>
<path d="M148.6,888.1 V894.1 M147.1,888.1 H150.1 M147.1,894.1 H150.1" stroke="#222" stroke-width="0.9" fill="none"/>
<path d="M219.8,928.1 V940.1 M218.3,928.1 H221.3 M218.3,940.1 H221.3" stroke="#222" stroke-width="0.9" fill="none"/>
<path d="M464.3,924.9 V932.9 M462.8,924.9 H465.8 M462.8,932.9 H465.8" stroke="#222" stroke-width="0.9" fill="none"/>
<path d="M512.6,867.8 V873.8 M511.1,867.8 H514.1 M511.1,873.8 H514.1" stroke="#222" stroke-width="0.9" fill="none"/>
<path d="M68.2,957 L148.6,891.1 L179.6,863.8 L197.9,855.8 L201.2,957.2 L219.8,934.1 L240.5,955.8 L313,879.4 L349.2,956.5 L401.1,955.8 L433.3,956.3 L464.3,928.9 L472.2,860.8 L488.3,957.3 L512.6,870.8" fill="none" stroke="#111" stroke-width="2.2" stroke-dasharray="10,7.6"/>
<circle cx="68.2" cy="957" r="2.1" fill="#111"/>
<circle cx="148.6" cy="891.1" r="2.1" fill="#111"/>
<circle cx="179.6" cy="863.8" r="2.1" fill="#111"/>
<circle cx="197.9" cy="855.8" r="2.1" fill="#111"/>
<circle cx="201.2" cy="957.2" r="2.1" fill="#111"/>
<circle cx="219.8" cy="934.1" r="2.1" fill="#111"/>
<circle cx="240.5" cy="955.8" r="2.1" fill="#111"/>
<circle cx="313" cy="879.4" r="2.1" fill="#111"/>
<circle cx="349.2" cy="956.5" r="2.1" fill="#111"/>
<circle cx="401.1" cy="955.8" r="2.1" fill="#111"/>
<circle cx="433.3" cy="956.3" r="2.1" fill="#111"/>
<circle cx="464.3" cy="928.9" r="2.1" fill="#111"/>
<circle cx="472.2" cy="860.8" r="2.1" fill="#111"/>
<circle cx="488.3" cy="957.3" r="2.1" fill="#111"/>
<circle cx="512.6" cy="870.8" r="2.1" fill="#111"/>
<path d="M148.6,890.5 V900.5 M147.1,890.5 H150.1 M147.1,900.5 H150.1" stroke="#e3262b" stroke-width="0.9" fill="none"/>
<path d="M179.6,864.2 V872.2 M178.1,864.2 H181.1 M178.1,872.2 H181.1" stroke="#e3262b" stroke-width="0.9" fill="none"/>
<path d="M197.9,854.2 V862.2 M196.4,854.2 H199.4 M196.4,862.2 H199.4" stroke="#e3262b" stroke-width="0.9" fill="none"/>
<path d="M219.8,861.0 V873.0 M218.3,861.0 H221.3 M218.3,873.0 H221.3" stroke="#e3262b" stroke-width="0.9" fill="none"/>
<path d="M433.3,949.3 V955.3 M431.8,949.3 H434.8 M431.8,955.3 H434.8" stroke="#e3262b" stroke-width="0.9" fill="none"/>
<path d="M512.6,862.9 V872.9 M511.1,862.9 H514.1 M511.1,872.9 H514.1" stroke="#e3262b" stroke-width="0.9" fill="none"/>
<path d="M68.2,957.7 L148.6,895.5 L179.6,868.2 L197.9,858.2 L201.1,909.4 L219.8,867 L240.5,955.8 L313,866.6 L349.2,956.5 L401.1,890.4 L433.3,952.3 L464.3,953.9 L472.2,856.5 L488.3,957.3 L512.6,867.9" fill="none" stroke="#e3262b" stroke-width="1.8" stroke-linejoin="round"/>
<rect x="66.1" y="955.6" width="4.2" height="4.2" fill="#e3262b"/>
<rect x="146.5" y="893.4" width="4.2" height="4.2" fill="#e3262b"/>
<rect x="177.5" y="866.1" width="4.2" height="4.2" fill="#e3262b"/>
<rect x="195.8" y="856.1" width="4.2" height="4.2" fill="#e3262b"/>
<rect x="199.0" y="907.3" width="4.2" height="4.2" fill="#e3262b"/>
<rect x="217.7" y="864.9" width="4.2" height="4.2" fill="#e3262b"/>
<rect x="238.4" y="953.7" width="4.2" height="4.2" fill="#e3262b"/>
<rect x="310.9" y="864.5" width="4.2" height="4.2" fill="#e3262b"/>
<rect x="347.1" y="954.4" width="4.2" height="4.2" fill="#e3262b"/>
<rect x="399.0" y="888.3" width="4.2" height="4.2" fill="#e3262b"/>
<rect x="431.2" y="950.2" width="4.2" height="4.2" fill="#e3262b"/>
<rect x="462.2" y="951.8" width="4.2" height="4.2" fill="#e3262b"/>
<rect x="470.1" y="854.4" width="4.2" height="4.2" fill="#e3262b"/>
<rect x="486.2" y="955.2" width="4.2" height="4.2" fill="#e3262b"/>
<rect x="510.5" y="865.8" width="4.2" height="4.2" fill="#e3262b"/>
<text x="187.3" y="912.9" font-size="11" fill="#585858" text-anchor="middle" letter-spacing="1.0">****</text>
<text x="220.7" y="859.9" font-size="11" fill="#585858" text-anchor="middle" letter-spacing="1.0">****</text>
<text x="314.2" y="862.7" font-size="11" fill="#585858" text-anchor="middle" letter-spacing="1.0">****</text>
<text x="402.1" y="885.6" font-size="11" fill="#585858" text-anchor="middle" letter-spacing="1.0">****</text>
<text x="465.5" y="951.8" font-size="11" fill="#585858" text-anchor="middle" letter-spacing="1.0">****</text>
<path d="M49,989.5 H55.4 M68.9,989.5 H73.7" stroke="#111" stroke-width="2"/>
<circle cx="61.8" cy="989.5" r="2.6" fill="#111"/>
<text x="76.9" y="993.3" font-size="12.6" fill="#404040">CTRLs mean</text>
<line x1="155" y1="989.5" x2="179.7" y2="989.5" stroke="#e3262b" stroke-width="1.8"/>
<rect x="165.3" y="987.3" width="4.4" height="4.4" fill="#e3262b"/>
<text x="182.9" y="993.3" font-size="12.1" fill="#404040">BWS-ICR1</text>
<text x="406.2" y="993.3" font-size="12.5" fill="#5a5a5a" textLength="258" lengthAdjust="spacingAndGlyphs">**** P&#8804;0.0001; *** P&#8804;0.001; ** P&#8804;0.01; * P&#8804;0.05</text>
</svg></body></html>
